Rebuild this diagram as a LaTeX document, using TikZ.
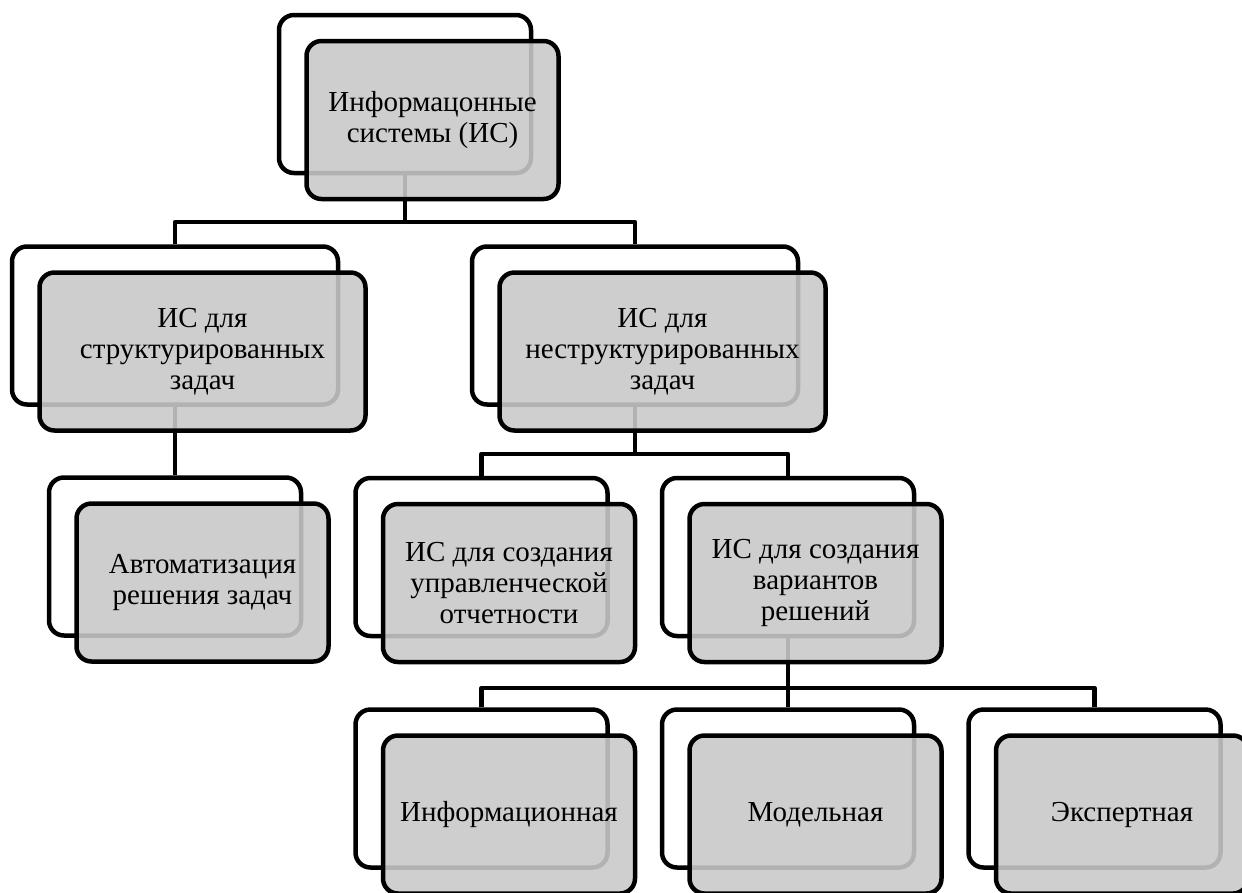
\documentclass[tikz,border=0pt]{standalone}
\usepackage{fontspec}
\setmainfont{Liberation Serif}
\begin{document}
\begin{tikzpicture}[x=1pt,y=-1pt,
  back/.style={draw=black, line width=4.5pt, rounded corners=15pt, fill=white,
    minimum width=252pt, minimum height=158pt, inner sep=0pt},
  wide/.style={minimum width=326pt},
  front/.style={back, fill=black!21, fill opacity=0.89, text opacity=1,
    font=\fontsize{29}{31}\selectfont, align=center, text=black},
  conn/.style={line width=4.5pt, line join=round}]
\useasboundingbox (0,0) rectangle (1242,892);
\clip (0,0) rectangle (1242,892);
% back boxes
\node[back] (top) at (405,94) {};
\node[back, wide] (L2a) at (175,325.5) {};
\node[back, wide] (L2b) at (635,325.5) {};
\node[back] (L3a) at (175,556.5) {};
\node[back] (L3b) at (481.5,557) {};
\node[back] (L3c) at (788,557) {};
\node[back] (L4a) at (481.5,788.5) {};
\node[back] (L4b) at (788,788.5) {};
\node[back] (L4c) at (1094.5,788.5) {};
% connectors
\coordinate (b1) at (405,222);
\coordinate (b2) at (635,454);
\coordinate (b3) at (788,688);
\draw[conn] (top.south) -- (b1);
\draw[conn] (L2a.north) |- (b1) -| (L2b.north);
\draw[conn] (L2a.south) -- (L3a.north);
\draw[conn] (L2b.south) -- (b2);
\draw[conn] (L3b.north) |- (b2) -| (L3c.north);
\draw[conn] (L3c.south) -- (b3);
\draw[conn] (L4a.north) |- (b3) -| (L4c.north);
\draw[conn] (b3) -- (L4b.north);
% front boxes
\node[front] (topF) at ([shift={(27.5,26)}]top.center) {Информацонные\\системы (ИС)};
\node[front, wide] (L2aF) at ([shift={(27.5,26)}]L2a.center) {ИС для\\структурированных\\задач};
\node[front, wide] (L2bF) at ([shift={(27.5,26)}]L2b.center) {ИС для\\неструктурированных\\задач};
\node[front] (L3aF) at ([shift={(27.5,26)}]L3a.center) {Автоматизация\\решения задач};
\node[front] (L3bF) at ([shift={(27.5,26)}]L3b.center) {ИС для создания\\управленческой\\отчетности};
\node[front] (L3cF) at ([shift={(27.5,26)}]L3c.center) {ИС для создания\\вариантов\\решений};
\node[front] (L4aF) at ([shift={(27.5,26)}]L4a.center) {Информационная};
\node[front] (L4bF) at ([shift={(27.5,26)}]L4b.center) {Модельная};
\node[front] (L4cF) at ([shift={(27.5,26)}]L4c.center) {Экспертная};
\end{tikzpicture}
\end{document}
